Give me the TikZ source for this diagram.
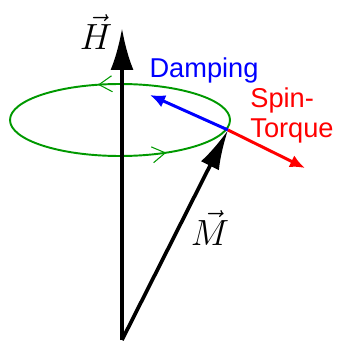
\documentclass[tikz,border=0pt]{standalone}
\usepackage{fontspec}
\setsansfont{Liberation Sans}
\usepackage{tikz}
\usetikzlibrary{
  arrows.meta,
  calc,
  positioning,
  decorations.markings
}
\tikzset{
  field vector/.style={
    -{Latex[length=8.4mm,width=4.6mm]},
    draw=black,
    line width=2.3pt
  }
}
\tikzset{
  moment vector/.style={
    -{Latex[length=8mm,width=4mm]},
    draw=black,
    line width=2.1pt
  }
}
\tikzset{
  torque vector/.style={
    -{Latex[length=3mm,width=2.6mm]},
    line width=1.7pt
  }
}
\tikzset{
  precession/.style={
    draw=green!60!black,
    line width=1.1pt,
    postaction={decorate},
    decoration={
      markings,
      mark=at position 0.295 with {\arrow{Straight Barb[length=2.6mm,width=3.2mm,line width=0.6pt]}},
      mark=at position 0.845 with {\arrow{Straight Barb[length=2.6mm,width=3.2mm,line width=0.6pt]}}
    }
  }
}
\tikzset{
  vec label/.style={
    inner sep=0pt,
    font=\huge
  }
}
\tikzset{
  term label/.style={
    inner sep=0pt,
    align=left,
    font=\fontsize{15.5}{17.5}\selectfont\sffamily
  }
}

\begin{document}
\begin{tikzpicture}[x=0.02cm,y=-0.02cm]

    \useasboundingbox (0,0) rectangle (339,344);

    % ------------------------------------------------------------
    % Points
    % ------------------------------------------------------------

    \coordinate (origin) at (122,340);
    \coordinate (Htip)   at (122,28);
    \coordinate (Mtip)   at (228,130);
    \coordinate (damp)   at (150,95);
    \coordinate (torque) at (305,168);
    \coordinate (rim)    at (230,120);

    % ------------------------------------------------------------
    % Precession cone
    % ------------------------------------------------------------

    \path[precession] (rim)
      arc [start angle=0, end angle=-360, x radius=110, y radius=36];

    % ------------------------------------------------------------
    % Vectors
    % ------------------------------------------------------------

    \draw[field vector] (origin) -- (Htip);
    \draw[moment vector] (origin) -- (Mtip);
    \draw[torque vector,draw=blue] (Mtip) -- (damp);
    \draw[torque vector,draw=red] (Mtip) -- (torque);

    % ------------------------------------------------------------
    % Labels
    % ------------------------------------------------------------

    \node[vec label] (Hlabel) at (96,32) {$\vec{H}$};
    \node[vec label] (Mlabel) at (210,228) {$\vec{M}$};

    \node[term label,text=blue] (Dlabel) at (204,70) {Damping};
    \node[term label,text=red,anchor=north west] (Tlabel) at (250,87)
    {Spin-\\Torque};

\end{tikzpicture}
\end{document}
